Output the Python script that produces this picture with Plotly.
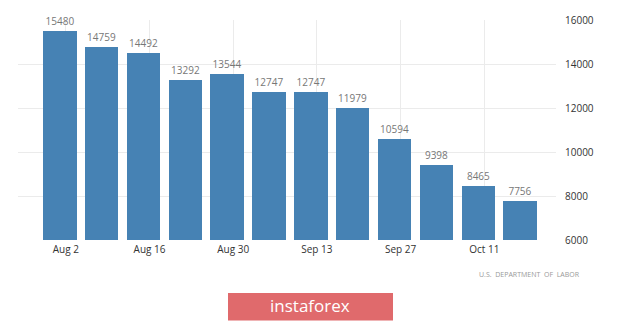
import plotly.graph_objects as go
import pandas as pd

dates = pd.date_range("2020-08-01", periods=12, freq="7D")
values = [15480, 14759, 14492, 13292, 13544, 12747, 12747, 11979, 10594, 9398, 8465, 7756]
x_ticks = ["2020-08-02", "2020-08-16", "2020-08-30", "2020-09-13", "2020-09-27", "2020-10-11"]
x_tick_labels = ["Aug 2", "Aug 16", "Aug 30", "Sep 13", "Sep 27", "Oct 11"]
y_ticks = [6000, 8000, 10000, 12000, 14000, 16000]
y_tick_labels = ["6000", "8000", "10000", "12000", "14000", "16000"]

W, H = 620, 323
L, R, T, B = 18, 556, 16, 240

def px_x(p):
    return (p - L) / (R - L)

def px_y(p):
    return (B - p) / (B - T)

fig = go.Figure()
fig.add_trace(go.Bar(
    x=dates, y=values,
    width=5.6 * 86400000,
    marker=dict(color="#4682B4", line=dict(width=0)),
    text=[str(v) for v in values],
    textposition="outside",
    textfont=dict(color="#777777", size=10, family="Open Sans"),
    cliponaxis=False,
))

fig.update_layout(
    width=W, height=H,
    margin=dict(l=L, r=W - R, t=T, b=H - B),
    plot_bgcolor="white", paper_bgcolor="white",
    showlegend=False,
    font=dict(family="Open Sans", color="#333333", size=10),
    xaxis=dict(
        range=["2020-07-25", "2020-10-23"],
        tickvals=x_ticks, ticktext=x_tick_labels,
        showgrid=True, gridcolor="#ebebeb", gridwidth=1,
        zeroline=False, showline=False,
        ticks="", ticklabelstandoff=2,
        tickfont=dict(size=10, color="#333333"),
    ),
    yaxis=dict(
        range=[6000, 16000], side="right",
        tickvals=y_ticks, ticktext=y_tick_labels,
        showgrid=True, gridcolor="#ebebeb", gridwidth=1,
        zeroline=False, showline=False,
        ticks="", ticklabelstandoff=8,
        tickfont=dict(size=10, color="#333333"),
    ),
    bargap=0,
)

fig.add_annotation(
    xref="paper", yref="paper", x=px_x(582), y=px_y(275),
    xanchor="right", yanchor="middle", showarrow=False,
    text="U.S.  DEPARTMENT  OF  LABOR",
    font=dict(size=7, color="#999999", family="Open Sans"),
)

fig.add_shape(
    type="rect", xref="paper", yref="paper",
    x0=px_x(228), x1=px_x(393), y0=px_y(322), y1=px_y(294),
    fillcolor="#E06A6C", line=dict(width=0), layer="above",
)
fig.add_annotation(
    xref="paper", yref="paper", x=px_x(310), y=px_y(307),
    xanchor="center", yanchor="middle", showarrow=False,
    text="instaforex",
    font=dict(size=17, color="white", family="Open Sans"),
)

fig.write_html("out.html")
